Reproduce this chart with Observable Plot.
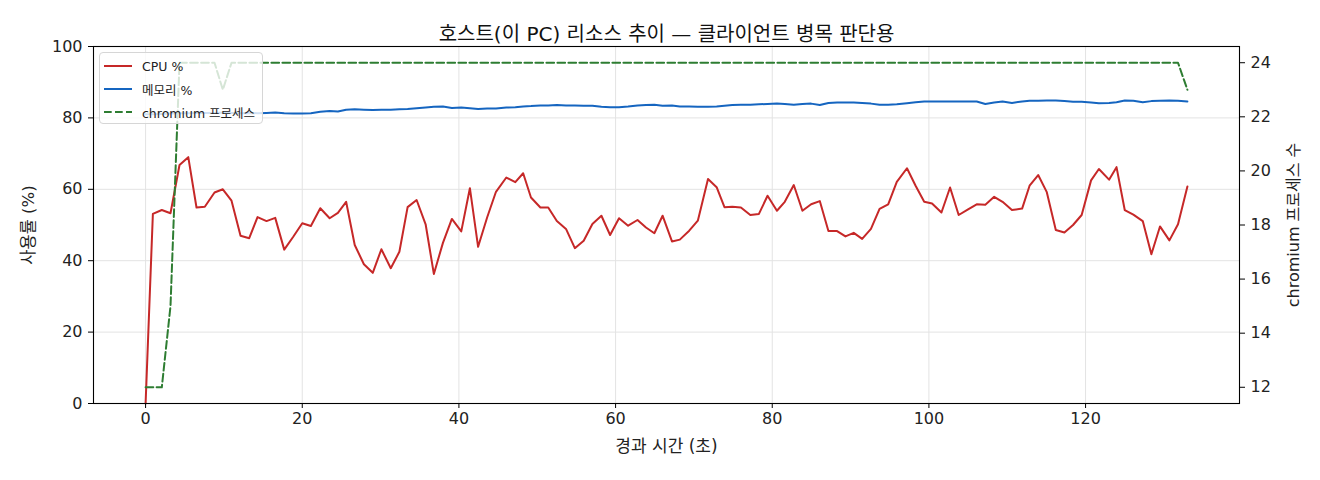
<!DOCTYPE html>
<html><head><meta charset="utf-8">
<script src="https://cdn.jsdelivr.net/npm/d3@7"></script>
<script src="https://cdn.jsdelivr.net/npm/@observablehq/plot@0.6"></script>
<style>
body{margin:0;background:#fff;font-family:"DejaVu Sans","Noto Sans CJK KR",sans-serif;}
#wrap{position:relative;width:1320px;height:480px;}
#legend{position:absolute;left:99px;top:52px;width:164px;height:72px;background:rgba(255,255,255,0.8);border:1px solid #d6d6d6;border-radius:4px;box-sizing:border-box;font-size:12.5px;color:#222;}
.item{position:absolute;left:4px;height:16px;display:flex;align-items:center;white-space:nowrap;}
.item svg{margin-right:10px;}
</style></head>
<body>
<div id="wrap"><div id="legend"></div></div>
<script>
const title = "호스트(이 PC) 리소스 추이 — 클라이언트 병목 판단용";
const xLabel = "경과 시간 (초)";
const yLabel = "사용률 (%)";
const y2Label = "chromium 프로세스 수";
const seriesNames = ["CPU %", "메모리 %", "chromium 프로세스"];
const seriesColors = ["#c62828", "#1565c0", "#2e7d32"];
const xTicks = [0, 20, 40, 60, 80, 100, 120];
const yTicks = [0, 20, 40, 60, 80, 100];
const y2Ticks = [12, 14, 16, 18, 20, 22, 24];

const times = [
 0, 0.93, 2.07, 3.18, 4.33, 5.45, 6.5, 7.56, 8.8, 9.86,
 10.97, 12.12, 13.23, 14.29, 15.44, 16.55, 17.7, 18.85, 20.0, 21.1,
 22.3, 23.5, 24.55, 25.6, 26.7, 27.87, 29.0, 30.1, 31.3, 32.4,
 33.45, 34.6, 35.75, 36.8, 37.96, 39.1, 40.3, 41.4, 42.45, 43.6,
 44.73, 46.05, 47.2, 48.2, 49.2, 50.4, 51.4, 52.5, 53.67, 54.8,
 55.93, 57.04, 58.19, 59.3, 60.44, 61.6, 62.8, 63.88, 64.95, 66.0,
 67.2, 68.2, 69.4, 70.5, 71.8, 72.9, 73.9, 74.9, 76.0, 77.2,
 78.3, 79.4, 80.6, 81.6, 82.75, 83.85, 84.96, 86.07, 87.17, 88.28,
 89.35, 90.4, 91.48, 92.6, 93.7, 94.8, 95.9, 97.2, 98.3, 99.4,
 100.4, 101.6, 102.7, 103.8, 105.0, 106.1, 107.2, 108.33, 109.4, 110.6,
 111.9, 112.85, 113.95, 115.05, 116.2, 117.3, 118.4, 119.5, 120.7, 121.7,
 123.0, 123.95, 125.0, 126.1, 127.3, 128.4, 129.5, 130.7, 131.8, 133.0
];
const cpu = [
 0, 53.1, 54.2, 53.3, 66.8, 69.0, 54.9, 55.1, 59.1, 60.0,
 56.8, 47.0, 46.3, 52.2, 51.1, 52.0, 43.1, 46.7, 50.5, 49.7,
 54.7, 51.9, 53.4, 56.5, 44.4, 39.0, 36.6, 43.2, 37.9, 42.5,
 55.0, 57.0, 50.2, 36.3, 45.0, 51.7, 48.2, 60.3, 43.9, 52.1,
 59.3, 63.3, 62.0, 64.5, 57.7, 54.9, 54.9, 51.1, 48.9, 43.5,
 45.6, 50.3, 52.6, 47.2, 51.9, 49.8, 51.4, 49.3, 47.7, 52.6,
 45.4, 45.9, 48.4, 51.2, 62.9, 60.6, 55.0, 55.1, 54.9, 52.8,
 53.1, 58.2, 54.0, 56.5, 61.2, 54.0, 55.8, 56.7, 48.3, 48.3,
 46.8, 47.8, 46.1, 48.9, 54.5, 55.8, 62.1, 65.9, 61.0, 56.5,
 56.0, 53.5, 60.5, 52.8, 54.4, 55.8, 55.7, 57.9, 56.5, 54.2,
 54.6, 61.0, 64.0, 59.2, 48.6, 47.9, 50.0, 52.8, 62.5, 65.7,
 62.7, 66.2, 54.2, 52.9, 51.1, 41.8, 49.6, 45.7, 50.2, 60.8
];
const mem = [
 81.0, 81.0, 81.1, 81.2, 81.3, 81.3, 81.4, 81.4, 81.4, 81.5,
 81.4, 81.3, 81.4, 81.3, 81.4, 81.5, 81.3, 81.2, 81.2, 81.3,
 81.7, 81.9, 81.8, 82.3, 82.4, 82.3, 82.2, 82.3, 82.3, 82.4,
 82.5, 82.7, 82.9, 83.1, 83.2, 82.8, 82.9, 82.7, 82.5, 82.6,
 82.6, 82.9, 83.0, 83.2, 83.3, 83.5, 83.5, 83.6, 83.5, 83.5,
 83.4, 83.4, 83.1, 83.0, 83.0, 83.2, 83.5, 83.6, 83.7, 83.4,
 83.5, 83.2, 83.2, 83.1, 83.1, 83.2, 83.4, 83.6, 83.7, 83.7,
 83.8, 83.9, 84.0, 83.9, 83.7, 83.9, 84.0, 83.6, 84.2, 84.3,
 84.3, 84.3, 84.2, 84.0, 83.7, 83.7, 83.8, 84.1, 84.4, 84.6,
 84.6, 84.6, 84.6, 84.6, 84.6, 84.6, 83.9, 84.3, 84.6, 84.2,
 84.6, 84.8, 84.8, 84.9, 84.9, 84.7, 84.5, 84.5, 84.3, 84.1,
 84.2, 84.4, 84.9, 84.8, 84.4, 84.7, 84.8, 84.9, 84.8, 84.6
];
const chromium = [
 12, 12, 12, 15, 24, 24, 24, 24, 24, 23,
 24, 24, 24, 24, 24, 24, 24, 24, 24, 24,
 24, 24, 24, 24, 24, 24, 24, 24, 24, 24,
 24, 24, 24, 24, 24, 24, 24, 24, 24, 24,
 24, 24, 24, 24, 24, 24, 24, 24, 24, 24,
 24, 24, 24, 24, 24, 24, 24, 24, 24, 24,
 24, 24, 24, 24, 24, 24, 24, 24, 24, 24,
 24, 24, 24, 24, 24, 24, 24, 24, 24, 24,
 24, 24, 24, 24, 24, 24, 24, 24, 24, 24,
 24, 24, 24, 24, 24, 24, 24, 24, 24, 24,
 24, 24, 24, 24, 24, 24, 24, 24, 24, 24,
 24, 24, 24, 24, 24, 24, 24, 24, 24, 23
];

// secondary-axis domain (count) mapped onto the primary 0..100 scale
const y2Domain = [11.4, 24.6];
const toPct = v => (v - y2Domain[0]) / (y2Domain[1] - y2Domain[0]) * 100;
const fromPct = p => p / 100 * (y2Domain[1] - y2Domain[0]) + y2Domain[0];

const rows = times.map((t, i) => ({t, cpu: cpu[i], mem: mem[i], chr: toPct(chromium[i])}));
const FONT = '"DejaVu Sans","Noto Sans CJK KR",sans-serif';
const DASH = "7.7,3.3";

const chart = Plot.plot({
  width: 1320, height: 480,
  marginTop: 46, marginBottom: 77, marginLeft: 93, marginRight: 81,
  style: {fontFamily: FONT, fontSize: "16px", color: "#222", background: "#fff"},
  x: {domain: [-6.65, 139.65]},
  y: {domain: [0, 100]},
  marks: [
    Plot.gridX(xTicks, {stroke: "#e3e3e3", strokeOpacity: 1}),
    Plot.gridY(yTicks, {stroke: "#e3e3e3", strokeOpacity: 1}),
    Plot.line(rows, {x: "t", y: "cpu", stroke: seriesColors[0], strokeWidth: 2}),
    Plot.line(rows, {x: "t", y: "mem", stroke: seriesColors[1], strokeWidth: 2}),
    Plot.line(rows, {x: "t", y: "chr", stroke: seriesColors[2], strokeWidth: 2, strokeDasharray: DASH}),
    Plot.frame({stroke: "#000", strokeWidth: 1.1}),
    Plot.axisX(xTicks, {tickSize: 5, tickPadding: 4, label: null, fontSize: 16, stroke: "#000"}),
    Plot.axisY(yTicks, {anchor: "left", tickSize: 5, tickPadding: 6, label: null, fontSize: 16, stroke: "#000"}),
    Plot.axisY(y2Ticks.map(toPct), {anchor: "right", tickSize: 5, tickPadding: 6, label: null, fontSize: 16, stroke: "#000",
      tickFormat: d => String(Math.round(fromPct(d)))}),
    Plot.text([title], {text: d => d, frameAnchor: "top", dy: -20, fontSize: 20, fill: "#111"}),
    Plot.text([xLabel], {text: d => d, frameAnchor: "bottom", dy: 48, fontSize: 17, fill: "#222"}),
    Plot.text([yLabel], {text: d => d, frameAnchor: "left", textAnchor: "middle", dx: -65, rotate: -90, fontSize: 16.5, fill: "#222"}),
    Plot.text([y2Label], {text: d => d, frameAnchor: "right", textAnchor: "middle", dx: 54, rotate: -90, fontSize: 16, fill: "#222"})
  ]
});
const wrap = document.getElementById("wrap");
wrap.insertBefore(chart, wrap.firstChild);

// legend (HTML overlay, upper-left inside the axes)
const legend = document.getElementById("legend");
seriesNames.forEach((name, i) => {
  const item = document.createElement("div");
  item.className = "item";
  item.style.top = (5 + i * 23) + "px";
  const dash = i === 2 ? `stroke-dasharray="${DASH}"` : "";
  item.innerHTML = `<svg width="28" height="4"><line x1="0" y1="2" x2="28" y2="2" stroke="${seriesColors[i]}" stroke-width="2" ${dash}/></svg><span>${name}</span>`;
  legend.appendChild(item);
});
</script>
</body></html>
